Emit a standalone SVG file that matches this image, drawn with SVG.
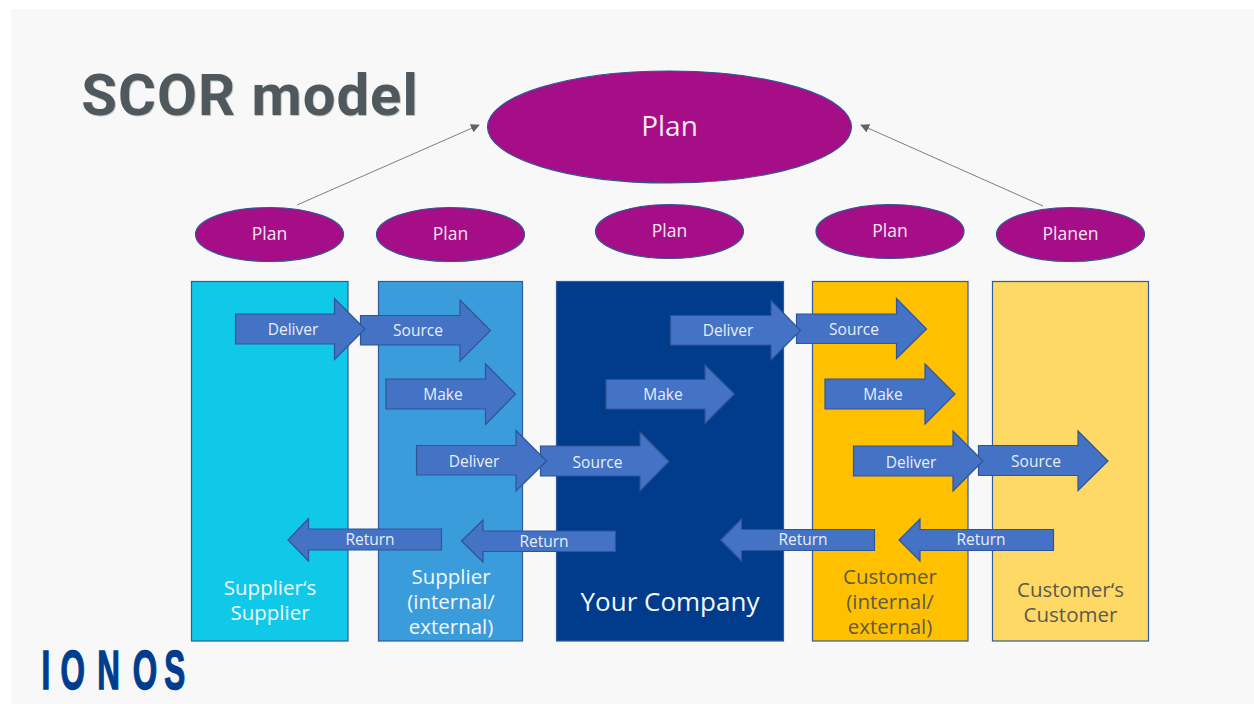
<svg xmlns="http://www.w3.org/2000/svg" width="1254" height="704" viewBox="0 0 1254 704">
<defs>
<marker id="ah" viewBox="0 0 10 10" refX="9" refY="5" markerWidth="9" markerHeight="9" markerUnits="userSpaceOnUse" orient="auto"><path d="M0 0L10 5L0 10Z" fill="#5d6468"/></marker>
<filter id="sh" x="-5%" y="-10%" width="110%" height="125%"><feDropShadow dx="0.7" dy="0.7" stdDeviation="0.7" flood-color="#000" flood-opacity="0.3"/></filter>
</defs>
<style>
text{font-family:"Open Sans","Noto Sans","Liberation Sans",sans-serif;text-anchor:middle}
.col{stroke:#2f5a9e;stroke-width:1.2}
.el{fill:#a50e87;stroke:#2f5597;stroke-width:1.2}
.ar{fill:#4472c4;stroke:#2f5597;stroke-width:1.2}
.al{fill:#e8eefa;font-size:15.5px}
.pl{fill:#f4e6f1;font-size:17.5px}
.w{fill:#f2f7fb;font-size:20.5px}
.d{fill:#5b5a4c;font-size:20.5px}
.line{stroke:#7c7f81;stroke-width:1;fill:none;marker-end:url(#ah)}
</style>
<rect width="1254" height="704" fill="#fff"/>
<rect x="11" y="9" width="1243" height="695" fill="#f8f8f8"/>
<text id="title" x="250" y="114.500" style="font-family:Roboto,'Liberation Sans',sans-serif;font-weight:700;font-size:58px;letter-spacing:1px" fill="#50585c" filter="url(#sh)">SCOR model</text>
<g id="col-suppliers-supplier"><rect class="col" x="191.5" y="281.5" width="156.5" height="359.5" fill="#10c8e8"/><text class="w" x="270" y="595">Supplier‘s</text><text class="w" x="270" y="620">Supplier</text></g>
<g id="col-supplier"><rect class="col" x="378.5" y="281.5" width="144" height="359.5" fill="#3b9cdb"/><text class="w" x="451" y="584">Supplier</text><text class="w" x="451" y="609">(internal/</text><text class="w" x="451" y="634">external)</text></g>
<g id="col-company"><rect class="col" x="556.5" y="281.5" width="227" height="359.5" fill="#013b8c"/><text x="670" y="611" fill="#f2f7fb" font-size="26px">Your Company</text></g>
<g id="col-customer"><rect class="col" x="812.5" y="281.5" width="155.5" height="359.5" fill="#ffc000"/><text class="d" x="890" y="584">Customer</text><text class="d" x="890" y="609">(internal/</text><text class="d" x="890" y="634">external)</text></g>
<g id="col-customers-customer"><rect class="col" x="992.5" y="281.5" width="156" height="359.5" fill="#ffd966"/><text class="d" x="1070.5" y="597">Customer‘s</text><text class="d" x="1070.5" y="622">Customer</text></g>
<g id="connectors"><path class="line" d="M297 205L479 125"/><path class="line" d="M1043 206L861 125"/></g>
<g id="plan-top"><ellipse class="el" cx="669.5" cy="127" rx="182" ry="56"/><text x="669.5" y="136" fill="#f4e6f1" font-size="28px">Plan</text></g>
<g id="plan-1"><ellipse class="el" cx="269.5" cy="234.5" rx="74" ry="27"/><text class="pl" x="269.5" y="240">Plan</text></g>
<g id="plan-2"><ellipse class="el" cx="450.5" cy="234.5" rx="74" ry="27"/><text class="pl" x="450.5" y="240">Plan</text></g>
<g id="plan-3"><ellipse class="el" cx="669.5" cy="231.5" rx="74" ry="27"/><text class="pl" x="669.5" y="237">Plan</text></g>
<g id="plan-4"><ellipse class="el" cx="890" cy="231.5" rx="74" ry="27"/><text class="pl" x="890" y="237">Plan</text></g>
<g id="plan-5"><ellipse class="el" cx="1070.5" cy="234.5" rx="74" ry="27"/><text class="pl" x="1070.5" y="240">Planen</text></g>
<g id="a-source-1"><polygon class="ar" points="360.500,315.500 460,315.500 460,300 490.500,330.500 460,361 460,345 360.500,345"/><text class="al" x="418" y="336">Source</text></g>
<g id="a-deliver-1"><polygon class="ar" points="235.5,314 334.5,314 334.5,298.500 365,329 334.5,359.500 334.5,344 235.500,344"/><text class="al" x="293" y="334.500">Deliver</text></g>
<g id="a-make-1"><polygon class="ar" points="386,379 485.500,379 485.500,364 515.500,394 485.500,424.500 485.500,409 386,409"/><text class="al" x="443" y="400">Make</text></g>
<g id="a-source-2"><polygon class="ar" points="540.500,446 640,446 640,432 669,461.500 640,491 640,476 540.500,476"/><text class="al" x="597.500" y="467.500">Source</text></g>
<g id="a-deliver-2"><polygon class="ar" points="416.500,445.500 516,445.500 516,430.500 546.500,461 516,491 516,475 416.500,475"/><text class="al" x="474" y="466.500">Deliver</text></g>
<g id="a-source-3"><polygon class="ar" points="796.500,314 896.500,314 896.500,298.500 926.500,329 896.500,358.500 896.500,343.500 796.500,343.500"/><text class="al" x="854" y="334.500">Source</text></g>
<g id="a-deliver-3"><polygon class="ar" points="670.500,315.500 771,315.500 771,300.500 800.500,330.500 771,360 771,345 670.500,345"/><text class="al" x="728" y="336">Deliver</text></g>
<g id="a-make-2"><polygon class="ar" points="606,379.500 705,379.500 705,365 734.500,394 705,423.500 705,409 606,409"/><text class="al" x="663" y="399.500">Make</text></g>
<g id="a-make-3"><polygon class="ar" points="825,379 925,379 925,364 955,394 925,424 925,409 825,409"/><text class="al" x="883" y="399.500">Make</text></g>
<g id="a-source-4"><polygon class="ar" points="978.500,445.500 1078,445.500 1078,431 1108,461 1078,490.500 1078,475.500 978.500,475.500"/><text class="al" x="1036" y="466.500">Source</text></g>
<g id="a-deliver-4"><polygon class="ar" points="853.500,446 953,446 953,431 983,461 953,491 953,476 853.500,476"/><text class="al" x="911" y="467.500">Deliver</text></g>
<g id="a-return-1"><polygon class="ar" points="441.500,529 308.500,529 308.500,518.500 288,540 308.500,561 308.500,550 441.500,550"/><text class="al" x="370" y="544.500">Return</text></g>
<g id="a-return-2"><polygon class="ar" points="615.500,531 483,531 483,520 461.500,541 483,562 483,551.500 615.500,551.500"/><text class="al" x="544" y="546.500">Return</text></g>
<g id="a-return-3"><polygon class="ar" points="874.500,529.500 741.500,529.500 741.500,519 720.500,540 741.500,561 741.500,550.500 874.500,550.500"/><text class="al" x="803" y="544.500">Return</text></g>
<g id="a-return-4"><polygon class="ar" points="1053.500,529.500 920,529.500 920,519 899,540 920,561 920,550.500 1053.500,550.500"/><text class="al" x="981" y="544.500">Return</text></g>
<text id="logo" transform="scale(0.56 1)" x="82 130 194 259 312" y="689" style="font-family:'Liberation Sans',sans-serif;font-weight:700;font-size:56px;stroke:#003d8f;stroke-width:1.5px" fill="#003d8f">IONOS</text>
</svg>
